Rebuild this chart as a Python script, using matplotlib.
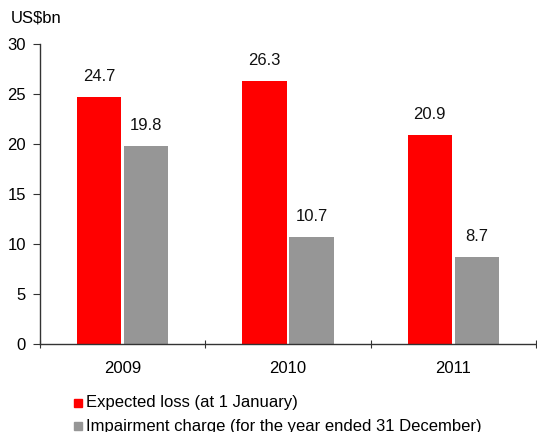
import numpy as np
import matplotlib
matplotlib.use("Agg")
from matplotlib import pyplot as plt

years = ["2009", "2010", "2011"]
expected_loss = [24.7, 26.3, 20.9]
impairment = [19.8, 10.7, 8.7]
series_labels = ["Expected loss (at 1 January)",
                 "Impairment charge (for the year ended 31 December)"]

red = "#ff0000"
grey = "#969696"

plt.rcParams['font.family'] = ['Liberation Sans', 'DejaVu Sans']
plt.rcParams['font.size'] = 12

fig = plt.figure(figsize=(5.37, 4.32), dpi=100)
ax = fig.add_axes([40 / 537, 1 - 344 / 432, 496 / 537, 300 / 432])

x = np.arange(len(years)) + 0.5
w = 0.268
off = 0.143
b1 = ax.bar(x - off, expected_loss, w, color=red)
b2 = ax.bar(x + off, impairment, w, color=grey)

for bars, vals in ((b1, expected_loss), (b2, impairment)):
    for b, v in zip(bars, vals):
        ax.text(b.get_x() + b.get_width() / 2, v + 1.3, "{:.1f}".format(v),
                ha="center", va="bottom", fontsize=12, color="#111111")

ax.set_xlim(0, 3)
ax.set_ylim(0, 30)
ax.set_yticks(np.arange(0, 31, 5))
ax.set_xticks([0, 1, 2, 3])
ax.set_xticklabels([])
ax.set_xticks(x, minor=True)
ax.set_xticklabels(years, minor=True)
ax.tick_params(axis="x", which="minor", length=0, pad=12)
ax.tick_params(axis="x", which="major", length=6, direction="inout", color="#333333")
ax.tick_params(axis="y", length=5, direction="out", color="#333333", pad=5)

for s in ("top", "right"):
    ax.spines[s].set_visible(False)
for s in ("left", "bottom"):
    ax.spines[s].set_color("#333333")
    ax.spines[s].set_linewidth(1.0)

fig.text(11 / 537, 1 - 18 / 432, "US$bn", ha="left", va="center", fontsize=12)

# legend
for i, (lab, c) in enumerate(zip(series_labels, [red, grey])):
    yy = 1 - (403 + 23 * i) / 432
    fig.patches.append(plt.Rectangle((74 / 537, yy - 4 / 432), 8 / 537, 8 / 432,
                                     transform=fig.transFigure, color=c))
    fig.text(86 / 537, yy, lab, ha="left", va="center", fontsize=12)

fig.savefig("out.png", dpi=100)
